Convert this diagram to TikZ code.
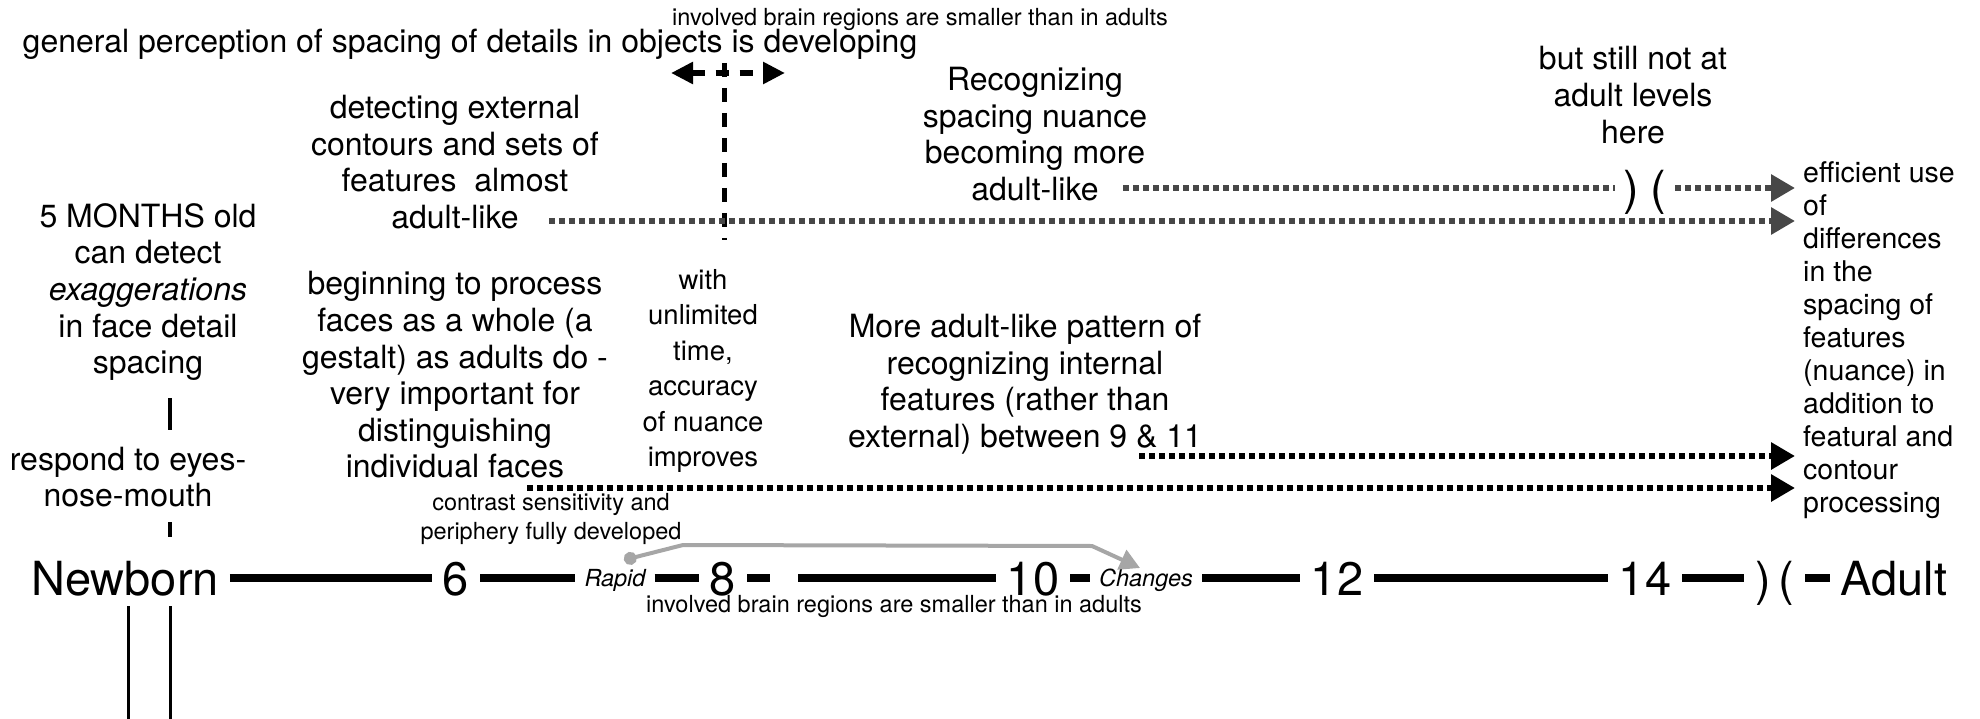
\documentclass[tikz,border=0pt]{standalone}
\usepackage{fontspec}
\setmainfont{TeX Gyre Heros}
\usetikzlibrary{arrows.meta}
\newcommand\fsMain{\fontsize{32}{36.6}\selectfont}
\newcommand\fsSmall{\fontsize{23.5}{28.5}\selectfont}
\newcommand\fsBig{\fontsize{47}{50}\selectfont}
\newcommand\fsRight{\fontsize{28.5}{33}\selectfont}
\newcommand\fsWith{\fontsize{27.5}{35.4}\selectfont}

\begin{document}
\begin{tikzpicture}[x=1pt,y=-1pt]
\tikzstyle{maintext} = [inner sep=0pt, align=center, font=\fsMain]
\tikzstyle{smalltext} = [inner sep=0pt, align=center, font=\fsSmall]
\tikzstyle{agelabel} = [inner xsep=11pt, inner ysep=0pt, text height=34pt, text depth=0pt, font=\fsBig]
\tikzstyle{ageword} = [inner xsep=9pt, inner ysep=0pt, text height=17pt, text depth=0pt, font=\fsSmall\itshape]
\tikzstyle{tline} = [line width=8pt]
\tikzstyle{vline} = [line width=4pt]
\tikzstyle{dots} = [line width=6pt, dash pattern=on 5.5pt off 4.5pt]
\tikzstyle{graydots} = [dots, draw=black!72, -{Triangle[length=24pt,width=26pt]}]
\tikzstyle{blackdots} = [dots, draw=black, -{Triangle[length=24pt,width=26pt]}]
\useasboundingbox (0,0) rectangle (1980,719);

% top notes
\node[smalltext] (brainTop) at (920,19) {involved brain regions are smaller than in adults};
\node[maintext] (general) at (470,44) {general perception of spacing of details in objects is developing};
\coordinate (dblL) at (671,73);
\coordinate (dblR) at (785,73);
\draw[line width=6pt, dash pattern=on 13pt off 11pt, {Triangle[length=22pt,width=21pt]}-{Triangle[length=22pt,width=21pt]}] (dblL) -- (dblR);
\coordinate (limTop) at (724,63);
\coordinate (limBot) at (724,240);
\draw[line width=5pt, dash pattern=on 14pt off 11pt] (limTop) -- (limBot);

\node[maintext] (contours) at (455,162) {detecting external\\contours and sets of\\features \ almost\\adult-like};
\node[maintext] (nuance) at (1035,134) {Recognizing\\spacing nuance\\becoming more\\adult-like};
\node[maintext] (notyet) at (1633,95) {but still not at\\adult levels\\here};
\node[inner xsep=8pt, inner ysep=0pt, align=left, font=\fsRight, anchor=west] (efficient) at (1795,340)
  {efficient use\\of\\differences\\in the\\spacing of\\features\\(nuance) in\\addition to\\featural and\\contour\\processing};

% dotted arrows
\coordinate (contoursEnd) at (549,221);
\draw[graydots] (contoursEnd) -- (contoursEnd -| efficient.west);
\coordinate (nuanceEnd) at (1123,188);
\node[agelabel, inner xsep=8pt] (gapOpen) at (1631,188) {)};
\node[agelabel, inner xsep=9pt] (gapClose) at (1658,188) {(};
\draw[dots, draw=black!72] (nuanceEnd) -- (gapOpen.west);
\draw[graydots] (gapClose.east) -- (gapClose.east -| efficient.west);

% left column
\node[maintext] (fivemonths) at (148,292) {5 MONTHS old\\can detect\\\textit{exaggerations}\\in face detail\\spacing};
\node[maintext] (respond) at (128,477) {respond to eyes-\\nose-mouth};
\draw[vline] (170,398) coordinate (fmA) -- (170,430) coordinate (fmB);
\draw[vline] (170,522) coordinate (rsA) -- (170,537) coordinate (rsB);
\draw[line width=3pt] (128,606) coordinate (nbA) -- (128,719) coordinate (nbB);
\draw[line width=3pt] (170,606) coordinate (nbC) -- (170,719) coordinate (nbD);

% middle
\node[maintext] (gestalt) at (455,375) {beginning to process\\faces as a whole (a\\gestalt) as adults do -\\very important for\\distinguishing\\individual faces};
\node[inner sep=0pt, align=center, font=\fsWith] (unlimited) at (703,371) {with\\unlimited\\time,\\accuracy\\of nuance\\improves};
\node[maintext] (internal) at (1025,384) {More adult-like pattern of\\recognizing internal\\features (rather than\\external) between 9 \& 11};
\coordinate (internalEnd) at (1139,456);
\draw[blackdots] (internalEnd) -- (internalEnd -| efficient.west);
\coordinate (gestaltEnd) at (527,488);
\draw[blackdots] (gestaltEnd) -- (gestaltEnd -| efficient.west);
\node[smalltext] (contrast) at (551,519) {contrast sensitivity and\\periphery fully developed};

% timeline
\node[agelabel] (newborn) at (125,578) {Newborn};
\node[agelabel] (six) at (456,578) {6};
\node[ageword] (rapid) at (615,578) {Rapid};
\node[agelabel] (eight) at (723,578) {8};
\coordinate (breakL) at (770,578);
\coordinate (breakR) at (798,578);
\node[agelabel] (ten) at (1033,578) {10};
\node[ageword] (changes) at (1146,578) {Changes};
\node[agelabel] (twelve) at (1337,578) {12};
\node[agelabel] (fourteen) at (1645,578) {14};
\node[agelabel] (skipOpen) at (1763,578) {)};
\node[agelabel] (skipClose) at (1786,578) {(};
\node[agelabel] (adult) at (1894,578) {Adult};
\draw[tline] (newborn.east) -- (six.west)
             (six.east) -- (rapid.west)
             (rapid.east) -- (eight.west)
             (eight.east) -- (breakL)
             (breakR) -- (ten.west)
             (ten.east) -- (changes.west)
             (changes.east) -- (twelve.west)
             (twelve.east) -- (fourteen.west)
             (fourteen.east) -- (skipOpen.west)
             (skipClose.east) -- (adult.west);
\node[smalltext] (brainBot) at (894,606) {involved brain regions are smaller than in adults};

% rapid changes
\coordinate (rapidDot) at (624,560);
\coordinate (changesTip) at (1140,568);
\draw[line width=4pt, draw=black!35, {Circle[length=13pt]}-{Triangle[length=20pt,width=21pt]}] (rapidDot) -- (683,545) -- (1092,546) -- (changesTip);
\end{tikzpicture}
\end{document}
